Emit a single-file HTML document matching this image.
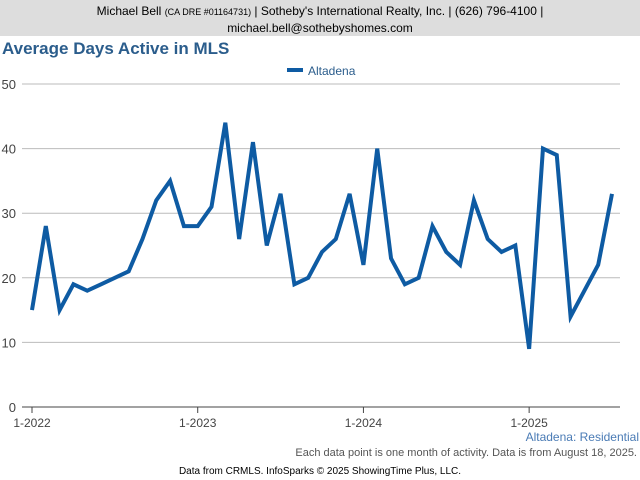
<!DOCTYPE html>
<html><head><meta charset="utf-8"><style>
body{margin:0;width:640px;height:480px;background:#fff;font-family:"Liberation Sans",sans-serif;position:relative;overflow:hidden}
.hdr{position:absolute;left:0;top:0;width:640px;height:36px;background:#ddd;text-align:center;font-size:12px;line-height:16px;padding-top:3px;box-sizing:border-box;color:#000}
</style></head><body>
<div class="hdr">Michael Bell <span style="font-size:9px">(CA DRE #01164731)</span> | Sotheby's International Realty, Inc. | (626) 796-4100 |<br>michael.bell@sothebyshomes.com</div>
<div style="position:absolute;left:2px;top:39px;font-size:17px;font-weight:bold;color:#2b5d8c">Average Days Active in MLS</div>
<svg width="640" height="480" style="position:absolute;left:0;top:0" id="chart"></svg>
<script>
const categories=[];for(let y=2022;y<=2025;y++)for(let m=1;m<=12;m++){if(y==2025&&m>7)break;categories.push(m+'-'+y);}
const values=[15,28,15,19,18,19,20,21,26,32,35,28,28,31,44,26,41,25,33,19,20,24,26,33,22,40,23,19,20,28,24,22,32,26,24,25,9,40,39,14,18,22,33];
const yTicks=[0,10,20,30,40,50];
const xTickLabels=['1-2022','1-2023','1-2024','1-2025'];
const xTickIdx=[0,12,24,36];
const svg=document.getElementById('chart');const NS='http://www.w3.org/2000/svg';
const x=i=>32+i*(612-32)/42;const y=v=>407-v*(407-84)/50;
function mk(t,a,txt){const e=document.createElementNS(NS,t);for(const k in a)e.setAttribute(k,a[k]);if(txt!=null)e.textContent=txt;svg.appendChild(e);return e;}
yTicks.forEach(v=>{
const l=mk('line',{x1:22,x2:620,y1:y(v),y2:y(v),stroke:v==0?'#444':'#bbb','stroke-width':1});


const t=mk('text',{x:16,y:y(v)+5,'text-anchor':'end','font-size':13,fill:'#444','font-family':'Liberation Sans'},v);


});
xTickIdx.forEach((i,k)=>{
const l=mk('line',{x1:x(i),x2:x(i),y1:407,y2:413,stroke:'#444'});


const t=mk('text',{x:x(i),y:427,'text-anchor':'middle','font-size':12,fill:'#444','font-family':'Liberation Sans'},xTickLabels[k]);


});
const p=mk('polyline',{points:values.map((v,i)=>x(i)+','+y(v)).join(' '),fill:'none',stroke:'#0e5ba3','stroke-width':4,'stroke-linejoin':'miter'});


const ll=mk('line',{x1:287,x2:303,y1:70,y2:70,stroke:'#0e5ba3','stroke-width':4});


const lt=mk('text',{x:308,y:75,'font-size':12,fill:'#2b5d8c','font-family':'Liberation Sans'},'Altadena');


const a=mk('text',{x:639,y:441,'text-anchor':'end','font-size':12,fill:'#4a7bb5','font-family':'Liberation Sans'},'Altadena: Residential');


const n=mk('text',{x:637,y:456,'text-anchor':'end','font-size':11,fill:'#555','font-family':'Liberation Sans'},'Each data point is one month of activity. Data is from August 18, 2025.');


const s=mk('text',{x:320,y:474,'text-anchor':'middle','font-size':10,fill:'#000','font-family':'Liberation Sans'},'Data from CRMLS. InfoSparks © 2025 ShowingTime Plus, LLC.');


</script>
</body></html>
